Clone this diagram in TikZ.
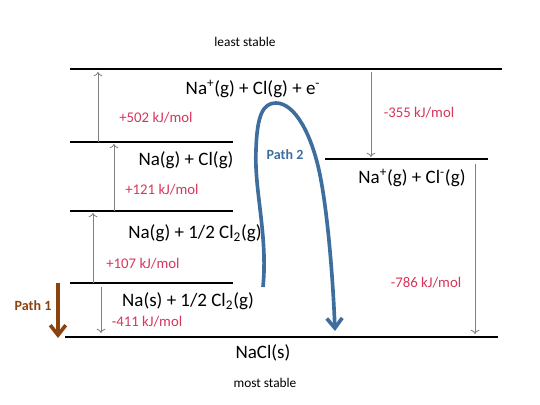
\documentclass[tikz,border=0pt]{standalone}
\usepackage{fontspec}
\setmainfont{Carlito}
\usetikzlibrary{arrows.meta}
\definecolor{valred}{RGB}{214,54,90}
\definecolor{pathbrown}{RGB}{140,66,14}
\definecolor{pathblue}{RGB}{62,110,158}
\begin{document}
\begin{tikzpicture}[
  x=0.025cm, y=-0.025cm,
  level/.style={line width=1.4pt},
  step arrow/.style={gray, line width=0.6pt, -{To[length=3pt]}},
  species/.style={inner sep=0pt, font=\fontsize{13.5}{16}\selectfont},
  value/.style={inner sep=0pt, text=valred, font=\fontsize{10.5}{12}\selectfont},
  note/.style={inner sep=0pt, font=\fontsize{9.5}{11}\selectfont},
  pathlabel/.style={inner sep=0pt, font=\fontsize{10}{12}\selectfont\bfseries}
]
  \useasboundingbox (0,0) rectangle (540,405);

  % Levels
  \coordinate (top-l) at (70,69);   \coordinate (top-r) at (502,69);
  \coordinate (atm-l) at (70,142);  \coordinate (atm-r) at (233,142);
  \coordinate (nag-l) at (70,211);  \coordinate (nag-r) at (233,211);
  \coordinate (ele-l) at (70,283);  \coordinate (ele-r) at (233,283);
  \coordinate (ion-l) at (325,159); \coordinate (ion-r) at (488,159);
  \coordinate (bot-l) at (65,337);  \coordinate (bot-r) at (498,337);

  \draw[level] (top-l) -- (top-r);
  \draw[level] (atm-l) -- (atm-r);
  \draw[level] (nag-l) -- (nag-r);
  \draw[level] (ele-l) -- (ele-r);
  \draw[level] (ion-l) -- (ion-r);
  \draw[level] (bot-l) -- (bot-r);

  % Species
  \node[note] (least) at (245,42) {least stable};
  \node[species] (sp1) at (253,89) {Na\textsuperscript{+}(g) + Cl(g) + e\textsuperscript{-}};
  \node[species] (sp2) at (186,160) {Na(g) + Cl(g)};
  \node[species] (sp3) at (195,233) {Na(g) + 1/2 Cl\textsubscript{2}(g)};
  \node[species] (sp4) at (188,301) {Na(s) + 1/2 Cl\textsubscript{2}(g)};
  \node[species] (sp5) at (412,178) {Na\textsuperscript{+}(g) + Cl\textsuperscript{-}(g)};
  \node[species] (sp6) at (263,353) {NaCl(s)};
  \node[note] (most) at (265,383) {most stable};

  % Values
  \node[value] (v502) at (156,118) {+502 kJ/mol};
  \node[value] (v121) at (162,190) {+121 kJ/mol};
  \node[value] (v107) at (143,264) {+107 kJ/mol};
  \node[value] (v411) at (147,322) {-411 kJ/mol};
  \node[value] (v355) at (419,113) {-355 kJ/mol};
  \node[value] (v786) at (426,283) {-786 kJ/mol};

  % Steps
  \coordinate (a1s) at (98,142);  \coordinate (a1e) at (98,72);
  \coordinate (a2s) at (114,211); \coordinate (a2e) at (114,144);
  \coordinate (a3s) at (93,283);  \coordinate (a3e) at (93,213);
  \coordinate (a4s) at (101,287); \coordinate (a4e) at (101,333);
  \coordinate (a5s) at (371,72);  \coordinate (a5e) at (371,157);
  \coordinate (a6s) at (475,164); \coordinate (a6e) at (475,334);
  \draw[step arrow] (a1s) -- (a1e);
  \draw[step arrow] (a2s) -- (a2e);
  \draw[step arrow] (a3s) -- (a3e);
  \draw[step arrow] (a4s) -- (a4e);
  \draw[step arrow] (a5s) -- (a5e);
  \draw[step arrow] (a6s) -- (a6e);

  % Paths
  \coordinate (p1s) at (58,283); \coordinate (p1e) at (58,338);
  \draw[pathbrown, line width=2.6pt, -{Straight Barb[length=7pt, width=11pt]}] (p1s) -- (p1e);
  \node[pathlabel, text=pathbrown] (path1) at (33,306) {Path 1};

  \coordinate (p2s) at (263,287); \coordinate (p2l) at (256,150);
  \coordinate (p2t) at (276,103); \coordinate (p2r) at (320,175);
  \coordinate (p2e) at (335,331);
  \draw[pathblue, line width=2.6pt, -{Straight Barb[length=7pt, width=11pt]}]
    (p2s) .. controls (268,235) and (254,190) .. (p2l)
          .. controls (257,115) and (263,103) .. (p2t)
          .. controls (295,103) and (312,135) .. (p2r)
          .. controls (328,215) and (333,280) .. (p2e);
  \node[pathlabel, text=pathblue] (path2) at (285,155) {Path 2};
\end{tikzpicture}
\end{document}
